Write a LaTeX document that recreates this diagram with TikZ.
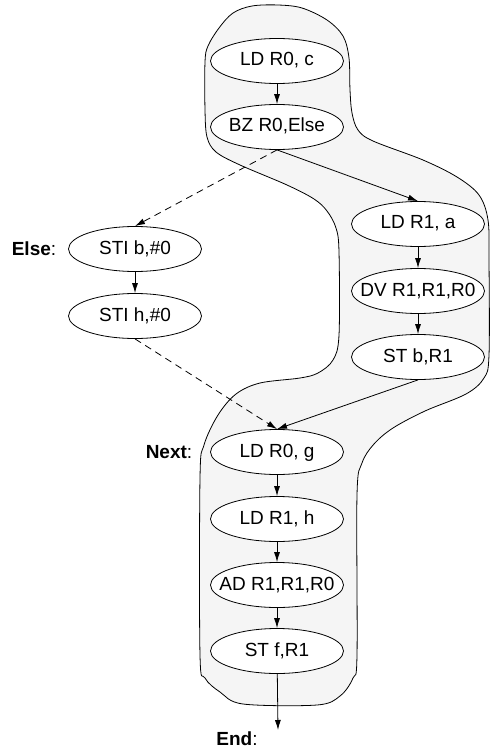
\documentclass[tikz,border=0pt]{standalone}
\usepackage{fontspec}
\setmainfont{Liberation Sans}
\usetikzlibrary{shapes.geometric,arrows.meta}

% text inside an instruction ellipse takes no width, so the ellipse keeps its fixed size
\newcommand\instext[1]{\makebox[0pt]{#1}}

\begin{document}
\begin{tikzpicture}[x=1pt,y=-1pt,
  instr/.style={ellipse, draw, fill=white, line width=0.8pt,
    minimum width=133pt, minimum height=45pt, inner sep=0pt,
    text height=14pt, text depth=4pt,
    font=\fontsize{19}{22}\selectfont},
  flow/.style={-{Latex[length=10pt,width=6pt]}, line width=0.8pt},
  alt/.style={flow, dash pattern=on 7pt off 5pt},
  lbl/.style={inner sep=0pt, font=\fontsize{19}{22}\selectfont},
  region/.style={fill=black!4, draw=black, line width=0.8pt}
]
\useasboundingbox (0,0) rectangle (491,751);

% shaded trace region enclosing the fall-through path
\draw[region] plot[smooth cycle, tension=0.55] coordinates {
  (233,13) (252,6) (278,5) (302,8) (327,20) (343,36) (349,58) (350,90)
  (352,113) (358,130) (373,141) (423,160) (457,177) (479,195) (488,220)
  (489,260) (489,355) (484,378) (466,394) (425,411) (393,428) (374,444)
  (362,463) (357,495) (357,655) (353,678) (340,696) (317,705) (243,704)
  (220,692) (205,678) (200,655) (200,478) (204,445) (218,415) (236,394)
  (260,383) (300,378) (318,373) (333,360) (339,335) (339,252) (336,228)
  (327,211) (314,199) (287,185) (240,165) (216,152) (207,137) (205,110)
  (205,62) (208,46) (219,28)
};

% instructions
\node[instr] (ldc)  at (277,61)  {\instext{LD R0, c}};
\node[instr] (bz)   at (277,127) {\instext{BZ R0,Else}};
\node[instr] (lda)  at (418,224) {\instext{LD R1, a}};
\node[instr] (dv)   at (418,291) {\instext{DV R1,R1,R0}};
\node[instr] (stb)  at (418,357) {\instext{ST b,R1}};
\node[instr] (stib) at (135,249) {\instext{STI b,\#0}};
\node[instr] (stih) at (135,316) {\instext{STI h,\#0}};
\node[instr] (ldg)  at (277,452) {\instext{LD R0, g}};
\node[instr] (ldh)  at (277,519) {\instext{LD R1, h}};
\node[instr] (ad)   at (277,585) {\instext{AD R1,R1,R0}};
\node[instr] (stf)  at (277,651) {\instext{ST f,R1}};

% labels
\node[lbl] (else) at (34,249)  {\textbf{Else}:};
\node[lbl] (next) at (169,452) {\textbf{Next}:};
\node[lbl] (end)  at (237,739) {\textbf{End}:};
\coordinate (exit) at (278,730);

% control flow
\draw[flow] (ldc) -- (bz);
\draw[flow] (bz.south) -- (lda.north);
\draw[alt]  (bz.south) -- (stib.north);
\draw[flow] (lda) -- (dv);
\draw[flow] (dv) -- (stb);
\draw[flow] (stib) -- (stih);
\draw[alt]  (stih.south) -- (ldg.north);
\draw[flow] (stb.south) -- (ldg.north);
\draw[flow] (ldg) -- (ldh);
\draw[flow] (ldh) -- (ad);
\draw[flow] (ad) -- (stf);
\draw[flow] (stf) -- (exit);
\end{tikzpicture}
\end{document}
